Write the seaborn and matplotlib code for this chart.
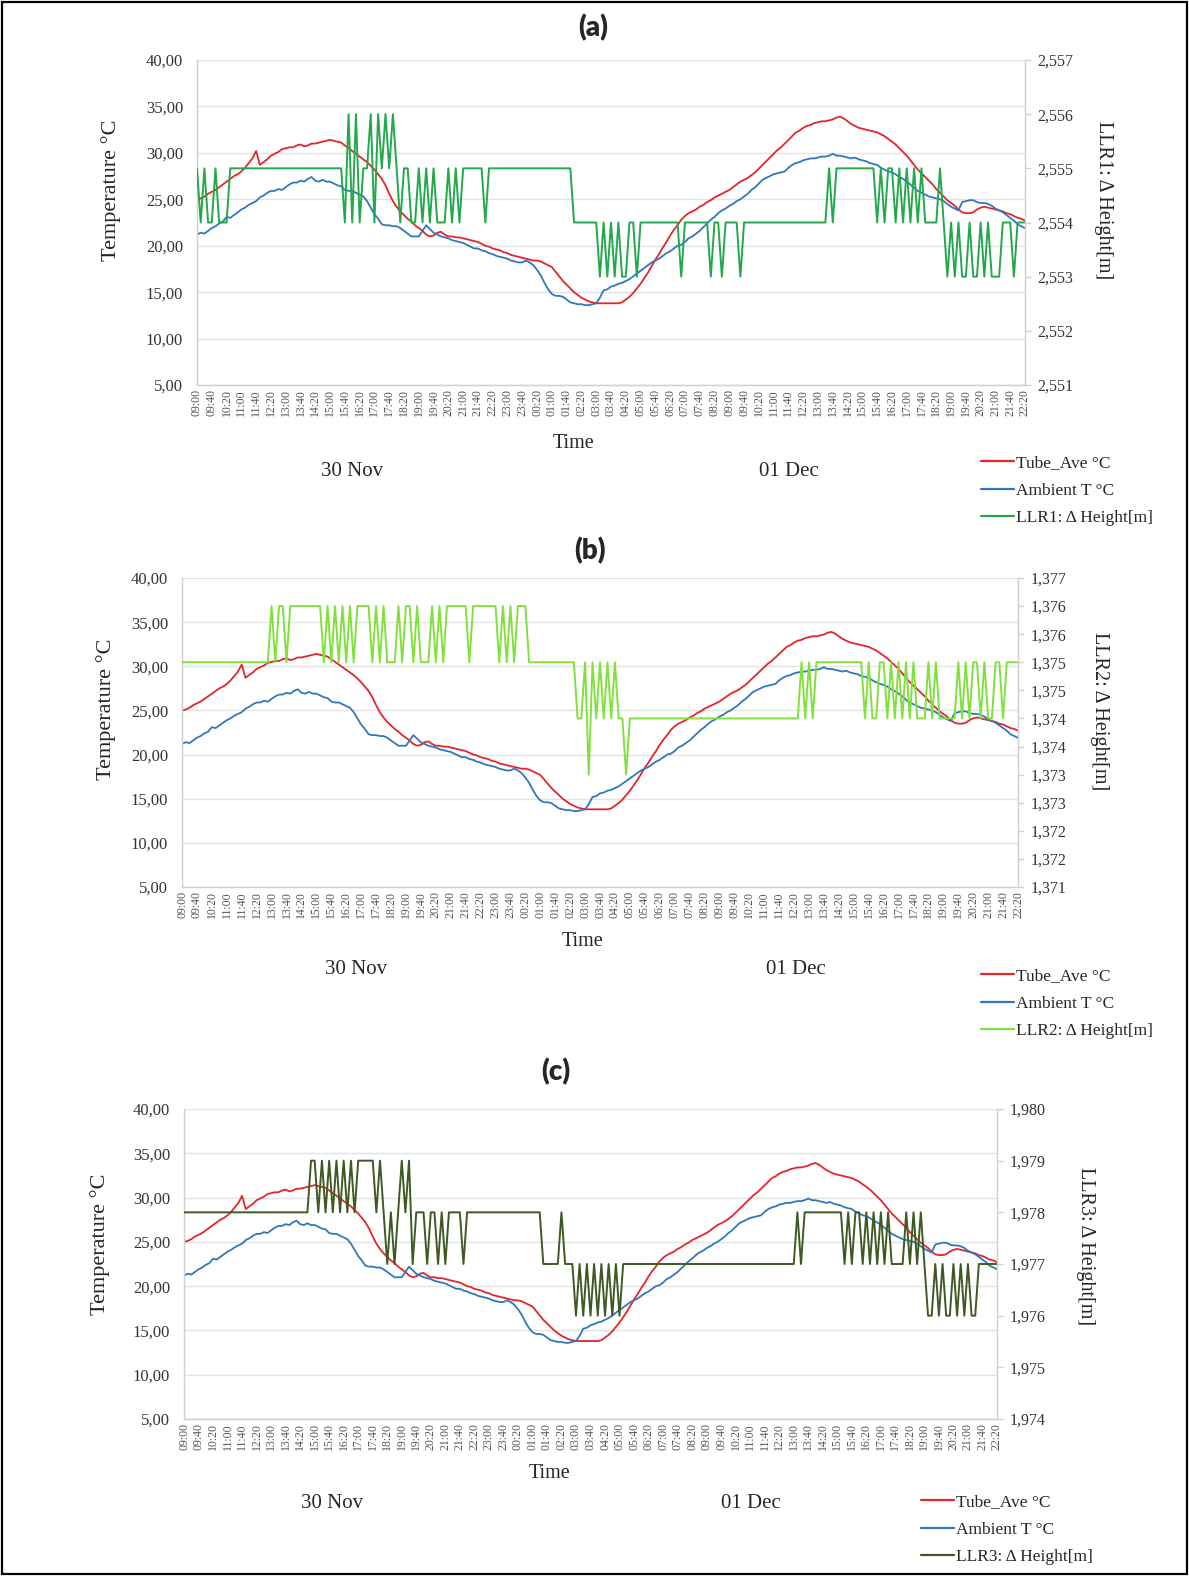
import numpy as np
import pandas as pd
import matplotlib
matplotlib.use("Agg")
import matplotlib.pyplot as plt
import seaborn as sns
from matplotlib.lines import Line2D
from matplotlib.patches import Rectangle

# 10-minute samples, 30 Nov 09:00 -> 01 Dec 22:20 (one row per hour)
tube_ave = [
    25.0, 25.1, 25.3, 25.6, 25.8, 26.0,  # 09
    26.3, 26.6, 26.9, 27.2, 27.5, 27.7,  # 10
    28.0, 28.4, 28.9, 29.4, 30.2, 28.7,  # 11
    29.0, 29.3, 29.7, 29.9, 30.1, 30.4,  # 12
    30.5, 30.6, 30.6, 30.8, 30.9, 30.7,  # 13
    30.8, 31.0, 31.0, 31.1, 31.2, 31.3,  # 14
    31.4, 31.3, 31.2, 31.1, 30.8, 30.5,  # 15
    30.2, 29.9, 29.6, 29.3, 29.0, 28.6,  # 16
    28.2, 27.7, 27.2, 26.5, 25.6, 24.8,  # 17
    24.2, 23.7, 23.3, 22.9, 22.6, 22.2,  # 18
    21.9, 21.6, 21.2, 21.0, 21.1, 21.4,  # 19
    21.5, 21.2, 21.0, 21.0, 20.9, 20.9,  # 20
    20.8, 20.7, 20.6, 20.5, 20.4, 20.2,  # 21
    20.0, 19.9, 19.7, 19.6, 19.5, 19.3,  # 22
    19.2, 19.0, 18.9, 18.8, 18.7, 18.6,  # 23
    18.5, 18.4, 18.4, 18.3, 18.1, 17.9,  # 00
    17.7, 17.2, 16.7, 16.2, 15.8, 15.4,  # 01
    15.0, 14.7, 14.4, 14.2, 14.0, 13.9,  # 02
    13.8, 13.8, 13.8, 13.8, 13.8, 13.8,  # 03
    13.8, 13.9, 14.2, 14.5, 14.9, 15.4,  # 04
    15.9, 16.5, 17.1, 17.8, 18.5, 19.1,  # 05
    19.8, 20.4, 21.1, 21.7, 22.2, 22.8,  # 06
    23.2, 23.5, 23.7, 23.9, 24.2, 24.4,  # 07
    24.7, 24.9, 25.2, 25.4, 25.6, 25.8,  # 08
    26.0, 26.3, 26.6, 26.9, 27.1, 27.3,  # 09
    27.6, 27.9, 28.3, 28.7, 29.1, 29.5,  # 10
    29.9, 30.3, 30.6, 31.0, 31.4, 31.8,  # 11
    32.2, 32.4, 32.7, 32.9, 33.0, 33.2,  # 12
    33.3, 33.4, 33.4, 33.5, 33.6, 33.8,  # 13
    33.9, 33.7, 33.4, 33.1, 32.9, 32.7,  # 14
    32.6, 32.5, 32.4, 32.3, 32.2, 32.0,  # 15
    31.8, 31.5, 31.2, 30.9, 30.5, 30.1,  # 16
    29.7, 29.2, 28.7, 28.2, 27.8, 27.4,  # 17
    27.0, 26.6, 26.1, 25.7, 25.3, 24.9,  # 18
    24.6, 24.3, 23.9, 23.6, 23.5, 23.5,  # 19
    23.6, 23.9, 24.1, 24.2, 24.1, 24.0,  # 20
    23.9, 23.8, 23.7, 23.5, 23.4, 23.2,  # 21
    23.0, 22.9, 22.7,                    # 22
]

ambient = [
    21.2, 21.4, 21.3, 21.6, 21.9, 22.1,  # 09
    22.4, 22.6, 23.1, 23.0, 23.3, 23.6,  # 10
    23.9, 24.1, 24.4, 24.6, 24.8, 25.2,  # 11
    25.4, 25.7, 25.9, 25.9, 26.1, 26.0,  # 12
    26.3, 26.6, 26.8, 26.8, 27.0, 26.9,  # 13
    27.2, 27.4, 27.0, 26.9, 27.1, 26.9,  # 14
    26.9, 26.7, 26.5, 26.4, 26.0, 25.9,  # 15
    25.9, 25.7, 25.5, 25.3, 24.8, 24.1,  # 16
    23.4, 22.9, 22.3, 22.2, 22.2, 22.1,  # 17
    22.1, 21.9, 21.6, 21.3, 21.0, 21.0,  # 18
    21.0, 21.6, 22.2, 21.8, 21.4, 21.2,  # 19
    21.0, 20.9, 20.8, 20.6, 20.5, 20.4,  # 20
    20.3, 20.1, 19.9, 19.7, 19.7, 19.5,  # 21
    19.4, 19.2, 19.1, 18.9, 18.8, 18.7,  # 22
    18.6, 18.4, 18.3, 18.2, 18.2, 18.4,  # 23
    18.2, 17.9, 17.4, 16.8, 16.0, 15.3,  # 00
    14.8, 14.6, 14.6, 14.5, 14.2, 13.9,  # 01
    13.8, 13.7, 13.7, 13.6, 13.6, 13.7,  # 02
    13.8, 14.4, 15.2, 15.3, 15.6, 15.7,  # 03
    15.9, 16.0, 16.2, 16.4, 16.7, 17.0,  # 04
    17.3, 17.6, 17.9, 18.2, 18.4, 18.6,  # 05
    18.9, 19.2, 19.4, 19.7, 20.0, 20.1,  # 06
    20.4, 20.8, 21.0, 21.3, 21.6, 22.0,  # 07
    22.4, 22.8, 23.1, 23.5, 23.8, 24.0,  # 08
    24.3, 24.5, 24.8, 25.0, 25.3, 25.6,  # 09
    26.0, 26.3, 26.7, 27.1, 27.3, 27.5,  # 10
    27.7, 27.8, 27.9, 28.0, 28.4, 28.7,  # 11
    28.9, 29.0, 29.2, 29.3, 29.4, 29.4,  # 12
    29.5, 29.6, 29.6, 29.7, 29.9, 29.7,  # 13
    29.7, 29.6, 29.5, 29.4, 29.5, 29.3,  # 14
    29.2, 29.1, 28.9, 28.8, 28.7, 28.4,  # 15
    28.2, 28.0, 27.9, 27.7, 27.4, 27.2,  # 16
    26.9, 26.6, 26.2, 25.9, 25.7, 25.5,  # 17
    25.3, 25.2, 25.1, 25.0, 24.8, 24.5,  # 18
    24.2, 24.0, 23.8, 24.7, 24.8, 24.9,  # 19
    24.9, 24.7, 24.6, 24.6, 24.5, 24.3,  # 20
    24.0, 23.8, 23.6, 23.3, 23.0, 22.7,  # 21
    22.3, 22.1, 21.9,                    # 22
]

# level readings in mm
llr1_mm = [
    2555, 2554, 2555, 2554, 2554, 2555,  # 09
    2554, 2554, 2554, 2555, 2555, 2555,  # 10
    2555, 2555, 2555, 2555, 2555, 2555,  # 11
    2555, 2555, 2555, 2555, 2555, 2555,  # 12
    2555, 2555, 2555, 2555, 2555, 2555,  # 13
    2555, 2555, 2555, 2555, 2555, 2555,  # 14
    2555, 2555, 2555, 2555, 2554, 2556,  # 15
    2554, 2556, 2554, 2555, 2555, 2556,  # 16
    2554, 2556, 2555, 2556, 2555, 2556,  # 17
    2555, 2554, 2555, 2555, 2554, 2554,  # 18
    2555, 2554, 2555, 2554, 2555, 2554,  # 19
    2554, 2554, 2555, 2554, 2555, 2554,  # 20
    2555, 2555, 2555, 2555, 2555, 2555,  # 21
    2554, 2555, 2555, 2555, 2555, 2555,  # 22
    2555, 2555, 2555, 2555, 2555, 2555,  # 23
    2555, 2555, 2555, 2555, 2555, 2555,  # 00
    2555, 2555, 2555, 2555, 2555, 2555,  # 01
    2554, 2554, 2554, 2554, 2554, 2554,  # 02
    2554, 2553, 2554, 2553, 2554, 2553,  # 03
    2554, 2553, 2553, 2554, 2554, 2553,  # 04
    2554, 2554, 2554, 2554, 2554, 2554,  # 05
    2554, 2554, 2554, 2554, 2554, 2553,  # 06
    2554, 2554, 2554, 2554, 2554, 2554,  # 07
    2554, 2553, 2554, 2554, 2553, 2554,  # 08
    2554, 2554, 2554, 2553, 2554, 2554,  # 09
    2554, 2554, 2554, 2554, 2554, 2554,  # 10
    2554, 2554, 2554, 2554, 2554, 2554,  # 11
    2554, 2554, 2554, 2554, 2554, 2554,  # 12
    2554, 2554, 2554, 2555, 2554, 2555,  # 13
    2555, 2555, 2555, 2555, 2555, 2555,  # 14
    2555, 2555, 2555, 2555, 2554, 2555,  # 15
    2554, 2555, 2555, 2554, 2555, 2554,  # 16
    2555, 2554, 2555, 2554, 2555, 2554,  # 17
    2554, 2554, 2554, 2555, 2554, 2553,  # 18
    2554, 2553, 2554, 2553, 2553, 2554,  # 19
    2553, 2553, 2554, 2553, 2554, 2553,  # 20
    2553, 2553, 2554, 2554, 2554, 2553,  # 21
    2554, 2554, 2554,                    # 22
]

llr2_mm = [
    1375, 1375, 1375, 1375, 1375, 1375,  # 09
    1375, 1375, 1375, 1375, 1375, 1375,  # 10
    1375, 1375, 1375, 1375, 1375, 1375,  # 11
    1375, 1375, 1375, 1375, 1375, 1375,  # 12
    1376, 1375, 1376, 1376, 1375, 1376,  # 13
    1376, 1376, 1376, 1376, 1376, 1376,  # 14
    1376, 1376, 1375, 1376, 1375, 1376,  # 15
    1375, 1376, 1375, 1376, 1375, 1376,  # 16
    1376, 1376, 1376, 1375, 1376, 1375,  # 17
    1376, 1375, 1375, 1375, 1376, 1375,  # 18
    1376, 1376, 1375, 1376, 1375, 1375,  # 19
    1375, 1376, 1375, 1376, 1375, 1376,  # 20
    1376, 1376, 1376, 1376, 1376, 1375,  # 21
    1376, 1376, 1376, 1376, 1376, 1376,  # 22
    1376, 1375, 1376, 1375, 1376, 1375,  # 23
    1376, 1376, 1376, 1375, 1375, 1375,  # 00
    1375, 1375, 1375, 1375, 1375, 1375,  # 01
    1375, 1375, 1375, 1375, 1374, 1374,  # 02
    1375, 1373, 1375, 1374, 1375, 1374,  # 03
    1375, 1374, 1375, 1374, 1374, 1373,  # 04
    1374, 1374, 1374, 1374, 1374, 1374,  # 05
    1374, 1374, 1374, 1374, 1374, 1374,  # 06
    1374, 1374, 1374, 1374, 1374, 1374,  # 07
    1374, 1374, 1374, 1374, 1374, 1374,  # 08
    1374, 1374, 1374, 1374, 1374, 1374,  # 09
    1374, 1374, 1374, 1374, 1374, 1374,  # 10
    1374, 1374, 1374, 1374, 1374, 1374,  # 11
    1374, 1374, 1374, 1374, 1375, 1374,  # 12
    1375, 1374, 1375, 1375, 1375, 1375,  # 13
    1375, 1375, 1375, 1375, 1375, 1375,  # 14
    1375, 1375, 1375, 1374, 1375, 1374,  # 15
    1374, 1375, 1375, 1374, 1375, 1374,  # 16
    1375, 1374, 1375, 1374, 1375, 1374,  # 17
    1374, 1374, 1375, 1374, 1375, 1374,  # 18
    1374, 1374, 1374, 1374, 1375, 1374,  # 19
    1375, 1374, 1375, 1375, 1374, 1375,  # 20
    1374, 1374, 1375, 1375, 1374, 1375,  # 21
    1375, 1375, 1375,                    # 22
]

llr3_mm = [
    1978, 1978, 1978, 1978, 1978, 1978,  # 09
    1978, 1978, 1978, 1978, 1978, 1978,  # 10
    1978, 1978, 1978, 1978, 1978, 1978,  # 11
    1978, 1978, 1978, 1978, 1978, 1978,  # 12
    1978, 1978, 1978, 1978, 1978, 1978,  # 13
    1978, 1978, 1978, 1978, 1978, 1979,  # 14
    1979, 1978, 1979, 1978, 1979, 1978,  # 15
    1979, 1978, 1979, 1978, 1979, 1978,  # 16
    1979, 1979, 1979, 1979, 1979, 1978,  # 17
    1979, 1978, 1977, 1978, 1977, 1978,  # 18
    1979, 1978, 1979, 1977, 1978, 1978,  # 19
    1978, 1977, 1978, 1978, 1977, 1978,  # 20
    1977, 1978, 1978, 1978, 1978, 1977,  # 21
    1978, 1978, 1978, 1978, 1978, 1978,  # 22
    1978, 1978, 1978, 1978, 1978, 1978,  # 23
    1978, 1978, 1978, 1978, 1978, 1978,  # 00
    1978, 1978, 1978, 1977, 1977, 1977,  # 01
    1977, 1977, 1978, 1977, 1977, 1977,  # 02
    1976, 1977, 1976, 1977, 1976, 1977,  # 03
    1976, 1977, 1976, 1977, 1976, 1977,  # 04
    1976, 1977, 1977, 1977, 1977, 1977,  # 05
    1977, 1977, 1977, 1977, 1977, 1977,  # 06
    1977, 1977, 1977, 1977, 1977, 1977,  # 07
    1977, 1977, 1977, 1977, 1977, 1977,  # 08
    1977, 1977, 1977, 1977, 1977, 1977,  # 09
    1977, 1977, 1977, 1977, 1977, 1977,  # 10
    1977, 1977, 1977, 1977, 1977, 1977,  # 11
    1977, 1977, 1977, 1977, 1977, 1977,  # 12
    1977, 1978, 1977, 1978, 1978, 1978,  # 13
    1978, 1978, 1978, 1978, 1978, 1978,  # 14
    1978, 1978, 1977, 1978, 1977, 1978,  # 15
    1978, 1977, 1978, 1977, 1978, 1977,  # 16
    1978, 1977, 1978, 1977, 1977, 1977,  # 17
    1977, 1978, 1977, 1978, 1977, 1978,  # 18
    1977, 1976, 1976, 1977, 1976, 1977,  # 19
    1976, 1976, 1977, 1976, 1977, 1976,  # 20
    1977, 1976, 1976, 1977, 1977, 1977,  # 21
    1977, 1977, 1977,                    # 22
]

time_labels = [
    "09:00", "09:40", "10:20", "11:00", "11:40", "12:20", "13:00", "13:40",
    "14:20", "15:00", "15:40", "16:20", "17:00", "17:40", "18:20", "19:00",
    "19:40", "20:20", "21:00", "21:40", "22:20", "23:00", "23:40", "00:20",
    "01:00", "01:40", "02:20", "03:00", "03:40", "04:20", "05:00", "05:40",
    "06:20", "07:00", "07:40", "08:20", "09:00", "09:40", "10:20", "11:00",
    "11:40", "12:20", "13:00", "13:40", "14:20", "15:00", "15:40", "16:20",
    "17:00", "17:40", "18:20", "19:00", "19:40", "20:20", "21:00", "21:40",
    "22:20",
]

temp_ticks = [5, 10, 15, 20, 25, 30, 35, 40]
temp_tick_labels = ["5,00", "10,00", "15,00", "20,00", "25,00", "30,00", "35,00", "40,00"]

llr1_ticks = [2.551, 2.552, 2.553, 2.554, 2.555, 2.556, 2.557]
llr1_tick_labels = ["2,551", "2,552", "2,553", "2,554", "2,555", "2,556", "2,557"]
llr2_ticks = [1.3710, 1.3715, 1.3720, 1.3725, 1.3730, 1.3735, 1.3740, 1.3745,
              1.3750, 1.3755, 1.3760, 1.3765]
llr2_tick_labels = ["1,371", "1,372", "1,372", "1,373", "1,373", "1,374", "1,374",
                    "1,375", "1,375", "1,376", "1,376", "1,377"]
llr3_ticks = [1.974, 1.975, 1.976, 1.977, 1.978, 1.979, 1.980]
llr3_tick_labels = ["1,974", "1,975", "1,976", "1,977", "1,978", "1,979", "1,980"]

df = pd.DataFrame({
    "t": np.arange(len(tube_ave)),
    "tube": tube_ave,
    "ambient": ambient,
    "llr1": np.array(llr1_mm) / 1000.0,
    "llr2": np.array(llr2_mm) / 1000.0,
    "llr3": np.array(llr3_mm) / 1000.0,
})

RED = "#E3262A"
BLUE = "#2F78BD"
GRID = "#E3E3E3"
SPINE = "#D0D0D0"
TXT = "#333333"

W, H = 1189, 1576


def fx(x):
    return x / W


def fy(y):
    return 1 - y / H


sns.set_theme(style="white")
plt.rcParams["font.family"] = ["Liberation Serif", "DejaVu Serif"]

fig = plt.figure(figsize=(W / 100, H / 100), dpi=100)

panels = [
    dict(tag="(a)", col="llr1", color="#23A84C", name="LLR1: \u0394 Height[m]",
         ticks=llr1_ticks, labels=llr1_tick_labels, box=(197, 60, 1025, 385),
         title=(593, 28), time=(574, 443), nov=(352, 472), dec=(789, 472),
         leg=(981, 455), rlab=(1103, 200), llab=(111, 190)),
    dict(tag="(b)", col="llr2", color="#82E03E", name="LLR2: \u0394 Height[m]",
         ticks=llr2_ticks, labels=llr2_tick_labels, box=(182, 578, 1018, 887),
         title=(590, 551), time=(583, 941), nov=(356, 970), dec=(796, 970),
         leg=(981, 968), rlab=(1100, 711), llab=(106, 709)),
    dict(tag="(c)", col="llr3", color="#3E5A22", name="LLR3: \u0394 Height[m]",
         ticks=llr3_ticks, labels=llr3_tick_labels, box=(184, 1109, 997, 1419),
         title=(556, 1072), time=(550, 1474), nov=(332, 1504), dec=(751, 1504),
         leg=(921, 1494), rlab=(1085, 1246), llab=(100, 1244)),
]

for p in panels:
    x0, y0, x1, y1 = p["box"]
    ax = fig.add_axes([fx(x0), fy(y1), (x1 - x0) / W, (y1 - y0) / H])

    sns.lineplot(data=df, x="t", y="tube", ax=ax, color=RED, linewidth=1.3, estimator=None)
    sns.lineplot(data=df, x="t", y="ambient", ax=ax, color=BLUE, linewidth=1.3, estimator=None)

    ax.set_xlim(0, len(tube_ave) - 1)
    ax.set_ylim(5, 40)
    ax.set_yticks(temp_ticks)
    ax.set_yticklabels(temp_tick_labels, fontsize=12, color=TXT)
    ax.set_xticks(np.arange(0, len(tube_ave), 4))
    ax.set_xticklabels(time_labels, rotation=90, fontsize=8.5, color="#555555")
    ax.tick_params(axis="y", length=0, pad=10)
    ax.tick_params(axis="x", length=0, pad=3)
    ax.set_xlabel("")
    ax.set_ylabel("")
    ax.yaxis.grid(True, color=GRID, linewidth=1.0)
    ax.xaxis.grid(False)
    ax.set_axisbelow(True)
    for s in ["top", "right"]:
        ax.spines[s].set_visible(False)
    for s in ["left", "bottom"]:
        ax.spines[s].set_color(SPINE)
        ax.spines[s].set_linewidth(1.0)

    ax2 = ax.twinx()
    sns.lineplot(data=df, x="t", y=p["col"], ax=ax2, color=p["color"], linewidth=1.4,
                 estimator=None)
    ax2.set_ylim(p["ticks"][0], p["ticks"][-1])
    ax2.set_yticks(p["ticks"])
    ax2.set_yticklabels(p["labels"], fontsize=11.5, color=TXT)
    ax2.tick_params(axis="y", length=4, width=1.0, color=SPINE, pad=5)
    ax2.set_ylabel("")
    ax2.set_xlabel("")
    ax2.grid(False)
    for s in ["top", "left", "bottom"]:
        ax2.spines[s].set_visible(False)
    ax2.spines["right"].set_color(SPINE)
    ax2.spines["right"].set_linewidth(1.0)

    fig.text(fx(p["title"][0]), fy(p["title"][1]), p["tag"], ha="center", va="center",
             fontsize=20, fontweight="heavy", family=["Lato", "DejaVu Sans"])
    fig.text(fx(p["time"][0]), fy(p["time"][1]), "Time", ha="center", va="center",
             fontsize=14.5)
    fig.text(fx(p["nov"][0]), fy(p["nov"][1]), "30 Nov", ha="center", va="center",
             fontsize=15)
    fig.text(fx(p["dec"][0]), fy(p["dec"][1]), "01 Dec", ha="center", va="center",
             fontsize=15)
    fig.text(fx(p["llab"][0]), fy(p["llab"][1]), "Temperature \u00b0C", ha="center",
             va="center", rotation=90, fontsize=16)
    fig.text(fx(p["rlab"][0]), fy(p["rlab"][1]), p["name"], ha="center", va="center",
             rotation=-90, fontsize=14.5)

    handles = [Line2D([0], [0], color=RED, lw=1.6),
               Line2D([0], [0], color=BLUE, lw=1.6),
               Line2D([0], [0], color=p["color"], lw=1.6)]
    fig.legend(handles, ["Tube_Ave \u00b0C", "Ambient T \u00b0C", p["name"]],
               loc="upper left", bbox_to_anchor=(fx(p["leg"][0]), fy(p["leg"][1])),
               frameon=False, fontsize=12.5, handlelength=1.9, handletextpad=0.1,
               labelspacing=0.65, borderaxespad=0, borderpad=0)

fig.add_artist(Rectangle((0.0015, 0.001), 0.997, 0.998, transform=fig.transFigure,
                         fill=False, edgecolor="black", linewidth=1.6))

fig.savefig("out.png", dpi=100, facecolor="white")
